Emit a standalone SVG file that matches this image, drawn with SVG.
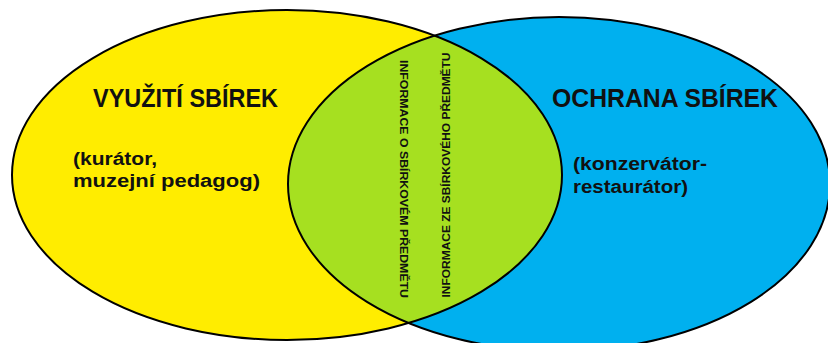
<svg xmlns="http://www.w3.org/2000/svg" width="828" height="343" viewBox="0 0 828 343">
<style>
.title{font-family:"Liberation Sans",Arial,sans-serif;font-weight:bold;font-size:26px;fill:#111}
.sub{font-family:"Liberation Sans",Arial,sans-serif;font-weight:bold;font-size:18px;fill:#111}
.vert{font-family:"Liberation Sans",Arial,sans-serif;font-weight:bold;font-size:11.5px;fill:#111;text-anchor:middle}
.outline{fill:none;stroke:#000;stroke-width:2}
</style>
<defs>
<clipPath id="clipY"><ellipse cx="287" cy="175" rx="275" ry="165"/></clipPath>
</defs>
<rect width="828" height="343" fill="#fff"/>
<g id="vyuziti">
<ellipse cx="287" cy="175" rx="275" ry="165" fill="#ffed00"/>
</g>
<g id="ochrana">
<ellipse cx="559" cy="184" rx="271" ry="167" fill="#00b0ef"/>
</g>
<g id="prunik">
<ellipse cx="559" cy="184" rx="271" ry="167" fill="#a6e020" clip-path="url(#clipY)"/>
</g>
<g id="obrysy">
<ellipse class="outline" cx="287" cy="175" rx="275" ry="165"/>
<ellipse class="outline" cx="559" cy="184" rx="271" ry="167"/>
</g>
<g id="texty-vyuziti">
<text class="title" x="93" y="107" textLength="185" lengthAdjust="spacingAndGlyphs">VYUŽITÍ SBÍREK</text>
<text class="sub" x="73" y="165" textLength="84" lengthAdjust="spacingAndGlyphs">(kurátor,</text>
<text class="sub" x="73" y="187" textLength="187" lengthAdjust="spacingAndGlyphs">muzejní pedagog)</text>
</g>
<g id="texty-ochrana">
<text class="title" x="552" y="107" textLength="226" lengthAdjust="spacingAndGlyphs">OCHRANA SBÍREK</text>
<text class="sub" x="573" y="170" textLength="134" lengthAdjust="spacingAndGlyphs">(konzervátor-</text>
<text class="sub" x="573" y="193" textLength="115" lengthAdjust="spacingAndGlyphs">restaurátor)</text>
</g>
<g id="texty-prunik">
<text class="vert" transform="translate(400,179) rotate(90)" x="0" y="0" textLength="238" lengthAdjust="spacingAndGlyphs">INFORMACE O SBÍRKOVÉM PŘEDMĚTU</text>
<text class="vert" transform="translate(450,175) rotate(-90)" x="0" y="0" textLength="245" lengthAdjust="spacingAndGlyphs">INFORMACE ZE SBÍRKOVÉHO PŘEDMĚTU</text>
</g>
</svg>
